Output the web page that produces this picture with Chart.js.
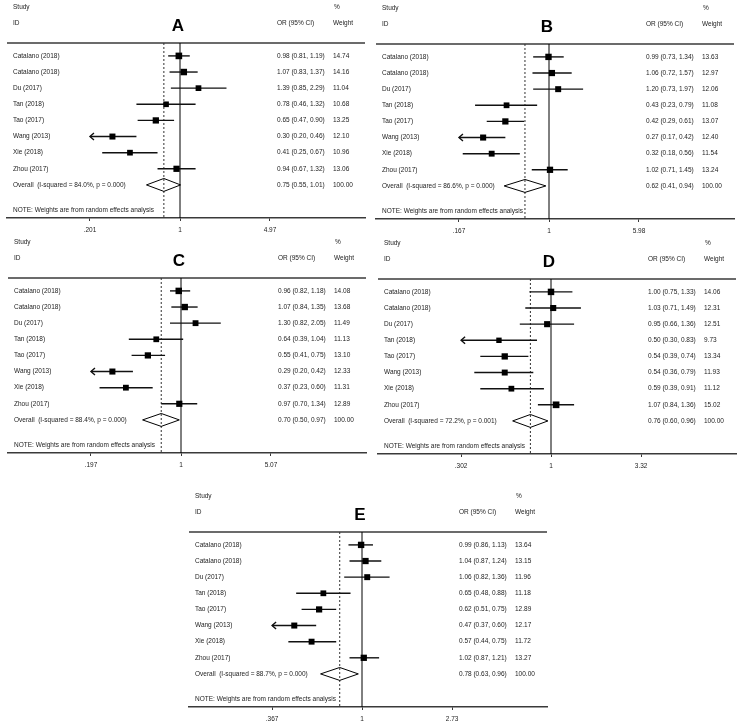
<!DOCTYPE html>
<html>
<head>
<meta charset="utf-8">
<script src="https://cdn.jsdelivr.net/npm/chart.js@4.4.1/dist/chart.umd.min.js"></script>
<style>
  html, body { margin: 0; padding: 0; background: #fff; overflow: hidden; }
  #wrap { position: relative; width: 741px; height: 725px; }
  canvas { position: absolute; }
</style>
</head>
<body>
<div id="wrap">
  <canvas id="panelA" width="370" height="240" style="left:0px;top:0px"></canvas>
  <canvas id="panelB" width="370" height="240" style="left:369px;top:1px"></canvas>
  <canvas id="panelC" width="370" height="240" style="left:1px;top:235px"></canvas>
  <canvas id="panelD" width="370" height="240" style="left:371px;top:236px"></canvas>
  <canvas id="panelE" width="370" height="240" style="left:182px;top:489px"></canvas>
</div>
<script>
const studies = ['Catalano (2018)', 'Catalano (2018)', 'Du (2017)', 'Tan (2018)',
                 'Tao (2017)', 'Wang (2013)', 'Xie (2018)', 'Zhou (2017)'];

// panel A
const or_A = [0.98, 1.07, 1.39, 0.78, 0.65, 0.30, 0.41, 0.94];
const lo_A = [0.81, 0.83, 0.85, 0.46, 0.47, 0.20, 0.25, 0.67];
const hi_A = [1.19, 1.37, 2.29, 1.32, 0.90, 0.46, 0.67, 1.32];
const weight_A = [14.74, 14.16, 11.04, 10.68, 13.25, 12.10, 10.96, 13.06];
const overall_A = [0.75, 0.55, 1.01];
const het_A = ['84.0%', '0.000'];
const ticks_A = [0.201, 1, 4.97];
const tickLabels_A = ['.201', '1', '4.97'];

// panel B
const or_B = [0.99, 1.06, 1.20, 0.43, 0.42, 0.27, 0.32, 1.02];
const lo_B = [0.73, 0.72, 0.73, 0.23, 0.29, 0.17, 0.18, 0.71];
const hi_B = [1.34, 1.57, 1.97, 0.79, 0.61, 0.42, 0.56, 1.45];
const weight_B = [13.63, 12.97, 12.06, 11.08, 13.07, 12.40, 11.54, 13.24];
const overall_B = [0.62, 0.41, 0.94];
const het_B = ['86.6%', '0.000'];
const ticks_B = [0.167, 1, 5.98];
const tickLabels_B = ['.167', '1', '5.98'];

// panel C
const or_C = [0.96, 1.07, 1.30, 0.64, 0.55, 0.29, 0.37, 0.97];
const lo_C = [0.82, 0.84, 0.82, 0.39, 0.41, 0.20, 0.23, 0.70];
const hi_C = [1.18, 1.35, 2.05, 1.04, 0.75, 0.42, 0.60, 1.34];
const weight_C = [14.08, 13.68, 11.49, 11.13, 13.10, 12.33, 11.31, 12.89];
const overall_C = [0.70, 0.50, 0.97];
const het_C = ['88.4%', '0.000'];
const ticks_C = [0.197, 1, 5.07];
const tickLabels_C = ['.197', '1', '5.07'];

// panel D
const or_D = [1.00, 1.03, 0.95, 0.50, 0.54, 0.54, 0.59, 1.07];
const lo_D = [0.75, 0.71, 0.66, 0.30, 0.39, 0.36, 0.39, 0.84];
const hi_D = [1.33, 1.49, 1.36, 0.83, 0.74, 0.79, 0.91, 1.36];
const weight_D = [14.06, 12.31, 12.51, 9.73, 13.34, 11.93, 11.12, 15.02];
const overall_D = [0.76, 0.60, 0.96];
const het_D = ['72.2%', '0.001'];
const ticks_D = [0.302, 1, 3.32];
const tickLabels_D = ['.302', '1', '3.32'];

// panel E
const or_E = [0.99, 1.04, 1.06, 0.65, 0.62, 0.47, 0.57, 1.02];
const lo_E = [0.86, 0.87, 0.82, 0.48, 0.51, 0.37, 0.44, 0.87];
const hi_E = [1.13, 1.24, 1.36, 0.88, 0.75, 0.60, 0.75, 1.21];
const weight_E = [13.64, 13.15, 11.96, 11.18, 12.89, 12.17, 11.72, 13.27];
const overall_E = [0.78, 0.63, 0.96];
const het_E = ['88.7%', '0.000'];
const ticks_E = [0.367, 1, 2.73];
const tickLabels_E = ['.367', '1', '2.73'];

const FONT = '"Liberation Sans", Arial, sans-serif';
const TXT = '#1c1c1c';
const AXIS = '#3a3a3a';

function line(ctx, x0, y0, x1, y1) {
    ctx.beginPath();
    ctx.moveTo(x0, y0);
    ctx.lineTo(x1, y1);
    ctx.stroke();
}

const forestPlugin = {
    id: 'forest',
    beforeDatasetsDraw(chart) {
        const p = chart.options.plugins.forest;
        const ctx = chart.ctx;
        const a = chart.chartArea;
        const x = chart.scales.x, y = chart.scales.y;
        ctx.save();
        // top rule
        ctx.strokeStyle = AXIS;
        ctx.lineWidth = 1.4;
        line(ctx, a.left, a.top, a.right, a.top);
        // no-effect line
        const x1 = x.getPixelForValue(1);
        ctx.strokeStyle = '#000';
        ctx.lineWidth = 1;
        line(ctx, x1, a.top, x1, a.bottom);
        // overall estimate, dashed
        const xo = x.getPixelForValue(p.overall[0]);
        ctx.setLineDash([2, 2]);
        ctx.strokeStyle = '#333';
        line(ctx, xo, a.top, xo, a.bottom);
        ctx.setLineDash([]);
        // confidence intervals
        const xmin = p.ticks[0];
        ctx.strokeStyle = '#111';
        ctx.lineWidth = 1.4;
        p.lo.forEach((lo, i) => {
            const clipped = lo <= Math.round(xmin * 100) / 100;
            const xl = x.getPixelForValue(clipped ? xmin : lo);
            const xh = x.getPixelForValue(p.hi[i]);
            const yy = y.getPixelForValue(i);
            line(ctx, xl, yy, xh, yy);
            if (clipped) {
                ctx.beginPath();
                ctx.moveTo(xl + 4, yy - 3.5);
                ctx.lineTo(xl, yy);
                ctx.lineTo(xl + 4, yy + 3.5);
                ctx.stroke();
            }
        });
        ctx.restore();
    },
    afterDraw(chart) {
        const p = chart.options.plugins.forest;
        const ctx = chart.ctx;
        const a = chart.chartArea;
        const x = chart.scales.x, y = chart.scales.y;
        const xs = a.left + 6, xc = a.left + 270, xw = a.left + 326;
        ctx.save();
        ctx.fillStyle = TXT;
        ctx.textBaseline = 'middle';
        ctx.textAlign = 'left';
        ctx.font = '6.5px ' + FONT;
        // header
        ctx.fillText('Study', xs, y.getPixelForValue(-3.02));
        ctx.fillText('ID', xs, y.getPixelForValue(-2));
        ctx.fillText('%', xw + 1, y.getPixelForValue(-3.02));
        ctx.fillText('OR (95% CI)', xc, y.getPixelForValue(-2));
        ctx.fillText('Weight', xw, y.getPixelForValue(-2));
        // rows
        studies.forEach((s, i) => {
            const yy = y.getPixelForValue(i);
            ctx.fillText(s, xs, yy);
            ctx.fillText(p.or[i].toFixed(2) + ' (' + p.lo[i].toFixed(2) + ', ' + p.hi[i].toFixed(2) + ')', xc, yy);
            ctx.fillText(p.weight[i].toFixed(2), xw, yy);
        });
        const yo = y.getPixelForValue(8);
        ctx.fillText('Overall  (I-squared = ' + p.het[0] + ', p = ' + p.het[1] + ')', xs, yo);
        ctx.fillText(p.overall[0].toFixed(2) + ' (' + p.overall[1].toFixed(2) + ', ' + p.overall[2].toFixed(2) + ')', xc, yo);
        ctx.fillText('100.00', xw, yo);
        ctx.fillText('NOTE: Weights are from random effects analysis', xs, y.getPixelForValue(9.55));
        // panel letter
        ctx.fillStyle = '#000';
        ctx.font = 'bold 17px ' + FONT;
        ctx.textAlign = 'center';
        ctx.fillText(p.letter, x.getPixelForValue(1) - 2, y.getPixelForValue(-1.85));
        ctx.restore();
    }
};

function makeForest(id, letter, or, lo, hi, weight, overall, het, ticks, tickLabels) {
    // 90 px between ticks on the log scale, value 1 sits 173 px right of the plot edge
    const L = (Math.log(ticks[2]) - Math.log(ticks[0])) / 2;
    const xMin = Math.exp(-173 / 90 * L);
    const xMax = Math.exp(185 / 90 * L);

    const points = or.map((v, i) => ({ x: v, y: i }));
    const diamond = [
        { x: overall[1], y: 8 }, { x: overall[0], y: 7.6 },
        { x: overall[2], y: 8 }, { x: overall[0], y: 8.4 },
        { x: overall[1], y: 8 }
    ];

    return new Chart(document.getElementById(id), {
        type: 'scatter',
        data: {
            datasets: [
                {
                    data: points,
                    pointStyle: 'rect',
                    pointRadius: weight.map(w => 1.22 * Math.sqrt(w)),
                    backgroundColor: '#000',
                    borderWidth: 0
                },
                {
                    type: 'line',
                    data: diamond,
                    borderColor: '#000',
                    borderWidth: 1,
                    pointRadius: 0,
                    fill: false,
                    tension: 0
                }
            ]
        },
        options: {
            responsive: false,
            animation: false,
            events: [],
            layout: { padding: { left: 7, right: 5, top: 43, bottom: 0 } },
            plugins: {
                legend: { display: false },
                tooltip: { enabled: false },
                forest: { letter, or, lo, hi, weight, overall, het, ticks }
            },
            scales: {
                x: {
                    type: 'logarithmic',
                    min: xMin,
                    max: xMax,
                    bounds: 'data',
                    afterBuildTicks: (axis) => { axis.ticks = ticks.map(v => ({ value: v })); },
                    afterFit: (axis) => { axis.height = 22; },
                    border: { display: true, color: AXIS, width: 1.4 },
                    grid: { drawOnChartArea: false, drawTicks: true, tickLength: 3, color: AXIS },
                    ticks: {
                        autoSkip: false,
                        maxRotation: 0,
                        padding: 5,
                        color: TXT,
                        font: { family: FONT, size: 6.5 },
                        callback: (v, i) => tickLabels[i]
                    }
                },
                y: {
                    type: 'linear',
                    display: false,
                    reverse: true,
                    bounds: 'data',
                    min: -0.8,
                    max: 10.05
                }
            }
        },
        plugins: [forestPlugin]
    });
}

makeForest('panelA', 'A', or_A, lo_A, hi_A, weight_A, overall_A, het_A, ticks_A, tickLabels_A);
makeForest('panelB', 'B', or_B, lo_B, hi_B, weight_B, overall_B, het_B, ticks_B, tickLabels_B);
makeForest('panelC', 'C', or_C, lo_C, hi_C, weight_C, overall_C, het_C, ticks_C, tickLabels_C);
makeForest('panelD', 'D', or_D, lo_D, hi_D, weight_D, overall_D, het_D, ticks_D, tickLabels_D);
makeForest('panelE', 'E', or_E, lo_E, hi_E, weight_E, overall_E, het_E, ticks_E, tickLabels_E);
</script>
</body>
</html>
